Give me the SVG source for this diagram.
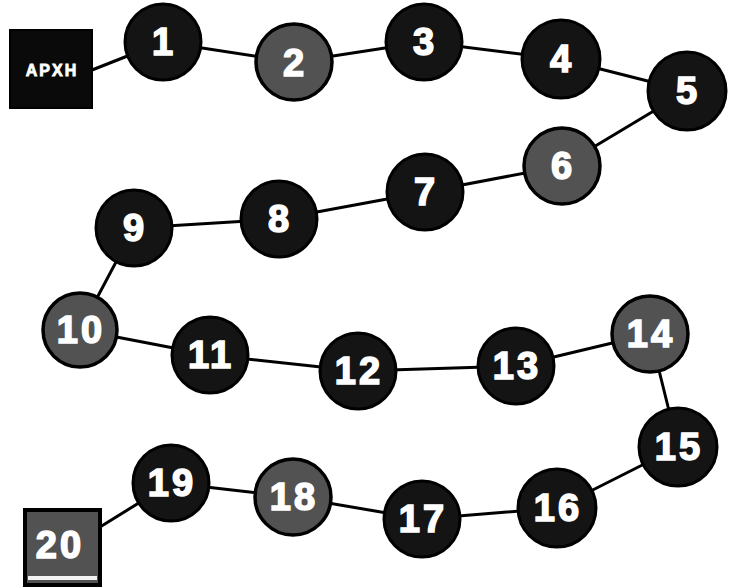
<svg xmlns="http://www.w3.org/2000/svg" width="735" height="588" viewBox="0 0 735 588">
<style>
.bg{fill:#ffffff}
.edge{stroke:#000;stroke-width:3;fill:none;stroke-linecap:round}
.dark{fill:#141414;stroke:#000;stroke-width:3}
.gray{fill:#525252;stroke:#000;stroke-width:3.5}
.num{font-family:"Liberation Sans",Arial,sans-serif;font-weight:bold;font-size:38px;fill:#fff;stroke:#fff;stroke-width:1.6;text-anchor:middle;letter-spacing:3px}
.lbl{font-family:"Liberation Sans",Arial,sans-serif;font-weight:bold;font-size:16px;fill:#fff;stroke:#fff;stroke-width:0.8;text-anchor:middle;letter-spacing:2px}
</style>
<rect class="bg" x="0" y="0" width="735" height="588"/>
<g id="connectors">
<line class="edge" x1="92" y1="70" x2="163" y2="42"/>
<line class="edge" x1="163" y1="42" x2="294" y2="62"/>
<line class="edge" x1="294" y1="62" x2="424" y2="42"/>
<line class="edge" x1="424" y1="42" x2="561" y2="59"/>
<line class="edge" x1="561" y1="59" x2="687" y2="91"/>
<line class="edge" x1="687" y1="91" x2="562" y2="166"/>
<line class="edge" x1="562" y1="166" x2="425" y2="192"/>
<line class="edge" x1="425" y1="192" x2="279" y2="219"/>
<line class="edge" x1="279" y1="219" x2="134" y2="228"/>
<line class="edge" x1="134" y1="228" x2="80" y2="330"/>
<line class="edge" x1="80" y1="330" x2="210" y2="355"/>
<line class="edge" x1="210" y1="355" x2="358" y2="371"/>
<line class="edge" x1="358" y1="371" x2="516" y2="366"/>
<line class="edge" x1="516" y1="366" x2="650" y2="334"/>
<line class="edge" x1="650" y1="334" x2="678" y2="447"/>
<line class="edge" x1="678" y1="447" x2="557" y2="508"/>
<line class="edge" x1="557" y1="508" x2="422" y2="519"/>
<line class="edge" x1="422" y1="519" x2="293" y2="497"/>
<line class="edge" x1="293" y1="497" x2="171" y2="483"/>
<line class="edge" x1="171" y1="483" x2="100" y2="527"/>
</g>
<g id="start">
<rect x="10" y="30" width="82" height="78" fill="#0a0a0a" stroke="#000" stroke-width="2"/>
<text class="lbl" x="52" y="76">ΑΡΧΗ</text>
</g>
<g id="n1"><circle class="dark" cx="163" cy="42" r="38"/><text class="num" x="164" y="55">1</text></g>
<g id="n2"><circle class="gray" cx="294" cy="62" r="38"/><text class="num" x="295" y="76">2</text></g>
<g id="n3"><circle class="dark" cx="424" cy="42" r="38"/><text class="num" x="425" y="55">3</text></g>
<g id="n4"><circle class="dark" cx="561" cy="59" r="39"/><text class="num" x="562" y="72">4</text></g>
<g id="n5"><circle class="dark" cx="687" cy="91" r="39"/><text class="num" x="688" y="104">5</text></g>
<g id="n6"><circle class="gray" cx="562" cy="166" r="38"/><text class="num" x="563" y="179">6</text></g>
<g id="n7"><circle class="dark" cx="425" cy="192" r="38"/><text class="num" x="426" y="205">7</text></g>
<g id="n8"><circle class="dark" cx="279" cy="219" r="38"/><text class="num" x="280" y="232">8</text></g>
<g id="n9"><circle class="dark" cx="134" cy="228" r="38"/><text class="num" x="135" y="241">9</text></g>
<g id="n10"><circle class="gray" cx="80" cy="330" r="37"/><text class="num" x="81" y="343">10</text></g>
<g id="n11"><circle class="dark" cx="210" cy="355" r="38"/><text class="num" x="211" y="368">11</text></g>
<g id="n12"><circle class="dark" cx="358" cy="371" r="38"/><text class="num" x="359" y="384">12</text></g>
<g id="n13"><circle class="dark" cx="516" cy="366" r="38"/><text class="num" x="517" y="379">13</text></g>
<g id="n14"><circle class="gray" cx="650" cy="334" r="38"/><text class="num" x="651" y="347">14</text></g>
<g id="n15"><circle class="dark" cx="678" cy="447" r="39"/><text class="num" x="679" y="460">15</text></g>
<g id="n16"><circle class="dark" cx="557" cy="508" r="39"/><text class="num" x="558" y="521">16</text></g>
<g id="n17"><circle class="dark" cx="422" cy="519" r="38"/><text class="num" x="423" y="532">17</text></g>
<g id="n18"><circle class="gray" cx="293" cy="497" r="38"/><text class="num" x="294" y="510">18</text></g>
<g id="n19"><circle class="dark" cx="171" cy="483" r="38"/><text class="num" x="172" y="496">19</text></g>
<g id="n20">
<rect x="25" y="510" width="75" height="75" fill="#525252" stroke="#000" stroke-width="4"/>
<rect x="28" y="576" width="69" height="4" fill="#f2f2f2"/>
<text class="num" x="60" y="558">20</text>
</g>
</svg>
